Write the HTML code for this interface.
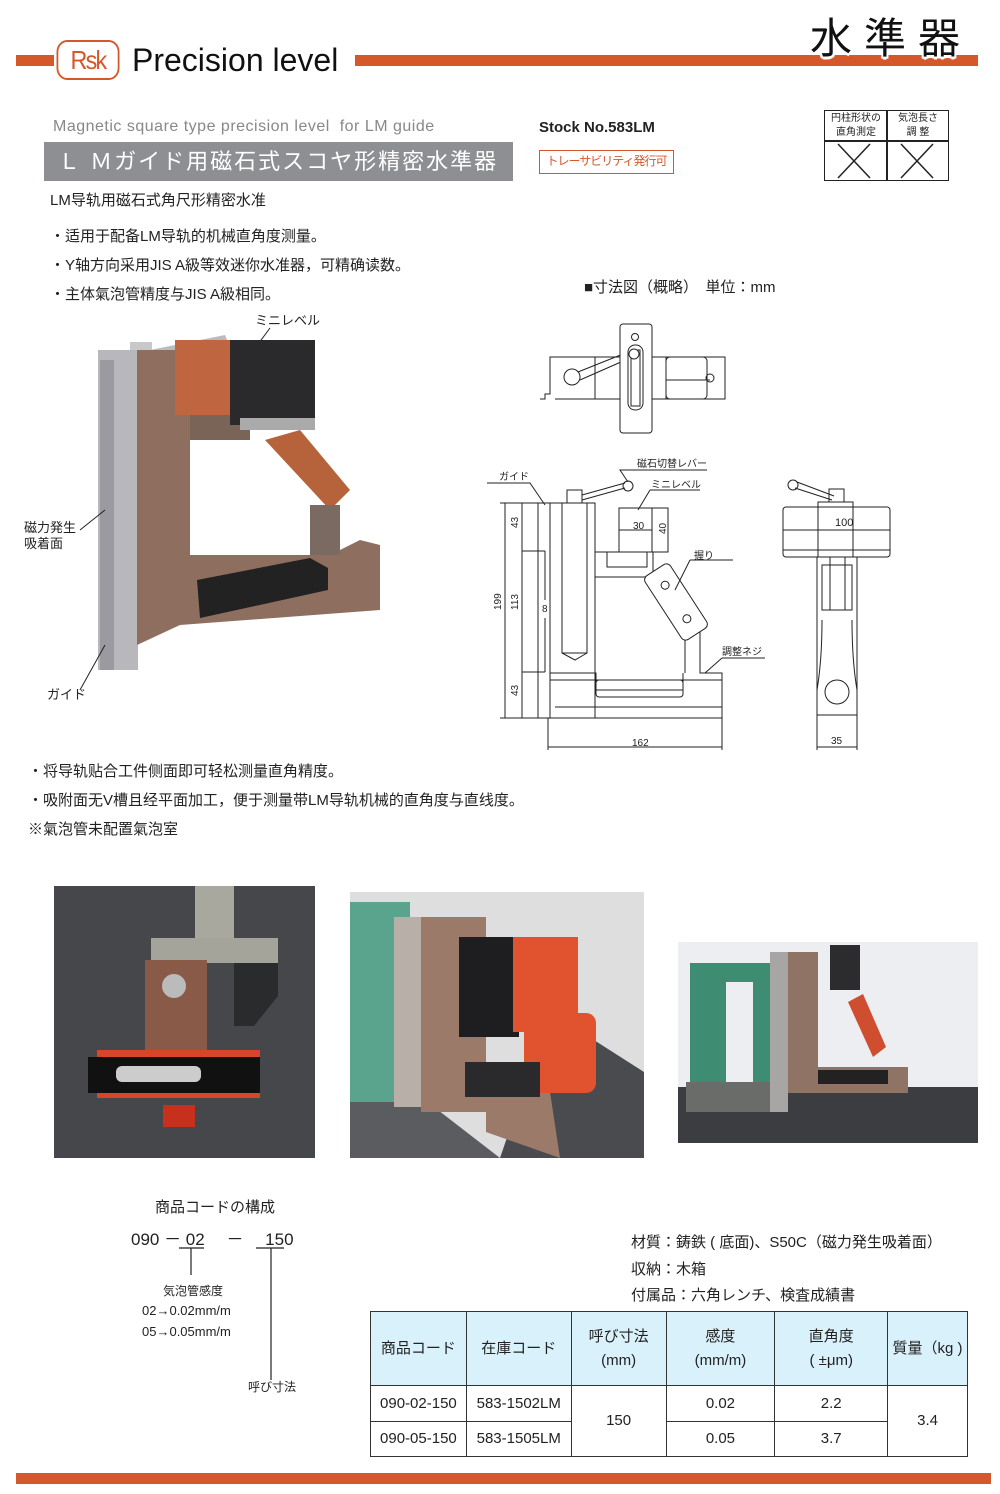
<!DOCTYPE html>
<html><head><meta charset="utf-8">
<style>
*{margin:0;padding:0;box-sizing:border-box}
body{width:1000px;height:1494px;position:relative;background:#fff;font-family:"Liberation Sans","Noto Sans CJK JP",sans-serif;color:#222;overflow:hidden}
.a{position:absolute;white-space:nowrap}
.t{font-size:15px}
table{border-collapse:collapse;position:absolute;left:370px;top:1311px;width:598px;font-size:15px}
td{border:1.5px solid #333;text-align:center;line-height:1.6}
th{border:1.5px solid #333;background:#d9f1fb;font-weight:normal;text-align:center;line-height:1.6;height:74px}
</style></head><body>
<div class="a" style="left:16px;top:55px;width:38px;height:11px;background:#d4582a"></div>
<div class="a" style="left:355px;top:55px;width:623px;height:11px;background:#d4582a"></div>
<div class="a" style="left:53px;top:40px;width:70px;height:40px;border:2px solid #d4582a;border-radius:12px;color:#d4582a;font-size:26px;text-align:center;line-height:36px;letter-spacing:-2px;transform:scaleX(0.9)">Rsk</div>
<div class="a" style="left:132px;top:42px;font-size:32px;color:#111">Precision level</div>
<div class="a" style="left:810px;top:14px;font-size:42px;letter-spacing:12px;color:#111;line-height:50px;text-shadow:2px 2px 0 #fff,-2px -2px 0 #fff,2px -2px 0 #fff,-2px 2px 0 #fff,0 3px 0 #fff">水準器</div>

<div class="a" style="left:53px;top:118px;font-size:16px;color:#888;letter-spacing:0.5px">Magnetic square type precision level&nbsp; for LM guide</div>
<div class="a" style="left:44px;top:142px;width:469px;height:39px;background:#8e8f93;color:#fff;font-size:22px;line-height:39px;padding-left:14px;letter-spacing:2px">Ｌ Ｍガイド用磁石式スコヤ形精密水準器</div>
<div class="a" style="left:50px;top:189px;font-size:15px">LM导轨用磁石式角尺形精密水准</div>
<div class="a" style="left:539px;top:119px;font-size:15px;font-weight:bold">Stock No.583LM</div>
<div class="a" style="left:539px;top:150px;width:135px;height:24px;border:1.5px solid #d4582a;color:#d4582a;font-size:12px;text-align:center;line-height:21px;letter-spacing:-1px">トレーサビリティ発行可</div>
<div class="a" style="left:824px;top:110px;width:125px;height:71px;border:1.5px solid #222"></div>
<div class="a" style="left:886px;top:110px;width:1.5px;height:71px;background:#222"></div>
<div class="a" style="left:824px;top:140px;width:125px;height:1.5px;background:#222"></div>
<div class="a" style="left:826px;top:112px;width:60px;font-size:10px;text-align:center;line-height:14px;white-space:normal">円柱形状の<br>直角測定</div>
<div class="a" style="left:888px;top:112px;width:60px;font-size:10px;text-align:center;line-height:14px;white-space:normal">気泡長さ<br>調 整</div>
<svg class="a" style="left:824px;top:141px" width="125" height="40"><path d="M14 3L46 37M46 3L14 37M77 3L109 37M109 3L77 37" stroke="#222" stroke-width="1.5"/></svg>

<div class="a t" style="left:50px;top:225px">・适用于配备LM导轨的机械直角度测量。</div>
<div class="a t" style="left:50px;top:254px">・Y轴方向采用JIS A級等效迷你水准器，可精确读数。</div>
<div class="a t" style="left:50px;top:283px">・主体氣泡管精度与JIS A級相同。</div>
<div class="a t" style="left:584px;top:276px">■寸法図（概略）　単位：mm</div>

<svg class="a" style="left:0;top:300px" width="480" height="420">
<text x="255" y="25" font-size="13" fill="#222">ミニレベル</text>
<line x1="270" y1="28" x2="250" y2="55" stroke="#222"/>
<rect x="130" y="42" width="22" height="20" fill="#c8c8c8"/>
<polygon points="150,50 225,35 228,42 152,56" fill="#bbb"/>
<rect x="98" y="50" width="40" height="320" fill="#b8b8bc"/>
<rect x="100" y="60" width="14" height="310" fill="#9a9aa0"/>
<path d="M137 50 L190 50 L190 255 L330 255 L360 240 L380 245 L380 310 L180 325 L137 345 Z" fill="#8e6e5e"/>
<rect x="190" y="110" width="60" height="30" fill="#7a6458"/>
<polygon points="265,140 300,130 350,190 330,210" fill="#b6623a"/>
<rect x="310" y="205" width="30" height="50" fill="#7a6a62"/>
<rect x="175" y="40" width="90" height="75" fill="#bf6640"/>
<rect x="230" y="40" width="85" height="85" fill="#2a2a2c"/>
<rect x="240" y="118" width="75" height="12" fill="#aaa"/>
<polygon points="197,280 310,258 328,268 328,290 200,318" fill="#222"/>
<text x="24" y="232" font-size="13" fill="#222">磁力発生</text>
<text x="24" y="248" font-size="13" fill="#222">吸着面</text>
<line x1="80" y1="230" x2="105" y2="210" stroke="#222"/>
<text x="47" y="399" font-size="13" fill="#222">ガイド</text>
<line x1="80" y1="390" x2="105" y2="345" stroke="#222"/>
</svg>

<svg class="a" style="left:480px;top:310px" width="440" height="450" font-size="10" fill="none" stroke="#222" stroke-width="1">
<g transform="translate(-480,-310)">
<path d="M540 399 L545 399 L545 394 L550 394 L550 357 L725 357 L725 399 L555 399"/>
<line x1="595" y1="357" x2="595" y2="399"/><line x1="666" y1="357" x2="666" y2="399"/>
<rect x="666" y="357" width="41" height="42" rx="4"/>
<line x1="666" y1="380" x2="710" y2="380"/>
<circle cx="710" cy="378" r="4"/>
<circle cx="572" cy="377" r="8"/>
<path d="M578 372L628 352M580 380L630 358"/>
<rect x="620" y="324" width="32" height="109" rx="3" fill="#fff"/>
<circle cx="635" cy="337" r="3.5"/>
<rect x="628" y="345" width="15" height="65" rx="7"/>
<rect x="631" y="350" width="9" height="56"/>
<circle cx="634" cy="354" r="5" fill="#fff"/>
<line x1="538" y1="503" x2="538" y2="718"/>
<rect x="550" y="503" width="45" height="215"/>
<rect x="562" y="503" width="25" height="150"/>
<path d="M562 653 L575 660 L587 653"/>
<rect x="567" y="490" width="15" height="13"/>
<path d="M582 495 L625 483 M582 500 L625 488"/><circle cx="628" cy="486" r="5"/>
<path d="M595 552 L653 552 L653 577 L595 577"/>
<rect x="607" y="552" width="40" height="15"/>
<rect x="619" y="508" width="33" height="44"/><rect x="652" y="508" width="16" height="44"/>
<line x1="619" y1="530" x2="652" y2="530"/>
<path d="M595 577 L595 673 L550 673 M550 680 L722 680 L722 718 L550 718 M555 707 L722 707"/>
<path d="M595 673 L596 673 L596 690 L683 690 L683 673"/>
<rect x="596" y="680" width="87" height="17" rx="3"/>
<path d="M685 673 L685 635 L700 625 L700 673 L722 673 L722 680"/>
<g transform="translate(676,602) rotate(57)"><rect x="-38" y="-15" width="76" height="30" rx="5" fill="#fff"/><circle cx="-20" cy="0" r="4"/><circle cx="20" cy="0" r="4"/></g>
<path d="M505 503 L505 718 M522 503 L522 718 M500 503 L550 503 M500 718 L550 718 M522 551 L545 551 M522 672 L545 672 M545 672 L545 618 M545 551 L545 600"/>
<path d="M548 718 L548 750 M722 718 L722 750 M548 747 L722 747"/>
<path d="M817 715 L817 750 M857 715 L857 750 M817 747 L857 747"/>
<path d="M487 483 L530 483 L545 505 M620 470 L707 470 L620 470 L628 482 M650 490 L700 490 M650 490 L638 510 M690 560 L733 560 M690 560 L675 590 M722 658 L765 658 M722 658 L705 673"/>
<rect x="783" y="507" width="107" height="50" rx="3"/>
<line x1="783" y1="530" x2="890" y2="530"/><line x1="783" y1="550" x2="890" y2="550"/>
<rect x="818" y="502" width="35" height="55"/>
<rect x="829" y="489" width="15" height="13"/>
<path d="M797 482 L834 496 M795 488 L832 500"/><circle cx="793" cy="485" r="5"/>
<path d="M817 557 L817 715 L857 715 L857 557 M822 565 L852 565 L852 610 L822 610 Z M830 557 L830 610 M845 557 L845 610 M822 620 Q822 660 817 690 M852 620 Q852 660 857 690"/>
<circle cx="837" cy="692" r="12"/>
</g>
<g stroke="none" fill="#222" font-family="Liberation Sans,Noto Sans CJK JP,sans-serif">
<text x="19" y="170">ガイド</text>
<text x="157" y="157">磁石切替レバー</text>
<text x="171" y="178">ミニレベル</text>
<text x="214" y="249">握り</text>
<text x="242" y="345">調整ネジ</text>
<text x="153" y="219">30</text>
<text x="355" y="216" font-size="11">100</text>
<text x="152" y="436">162</text>
<text x="351" y="434">35</text>
<text x="62" y="302">8</text>
<text transform="translate(38,300) rotate(-90)">113</text>
<text transform="translate(21,300) rotate(-90)">199</text>
<text transform="translate(38,218) rotate(-90)">43</text>
<text transform="translate(38,386) rotate(-90)">43</text>
<text transform="translate(186,224) rotate(-90)">40</text>
</g>
</svg>

<div class="a t" style="left:28px;top:760px">・将导轨贴合工件侧面即可轻松测量直角精度。</div>
<div class="a t" style="left:28px;top:789px">・吸附面无V槽且经平面加工，便于测量带LM导轨机械的直角度与直线度。</div>
<div class="a t" style="left:28px;top:818px">※氣泡管未配置氣泡室</div>

<svg class="a" style="left:54px;top:886px" width="261" height="272">
<rect width="261" height="272" fill="#45474a"/>
<rect x="141" y="0" width="39" height="52" fill="#a9a89e"/>
<rect x="97" y="52" width="127" height="25" fill="#a5a49a"/>
<polygon points="180,77 224,77 224,110 200,140 180,140" fill="#2a2b2d"/>
<rect x="91" y="74" width="62" height="100" fill="#8a5a48"/>
<circle cx="120" cy="100" r="12" fill="#bbb"/>
<rect x="43" y="164" width="163" height="48" fill="#d7452a"/>
<rect x="34" y="171" width="172" height="36" fill="#111"/>
<rect x="62" y="180" width="85" height="16" rx="6" fill="#ccc"/>
<rect x="109" y="219" width="32" height="22" fill="#c8301e"/>
</svg>
<svg class="a" style="left:350px;top:892px" width="294" height="266">
<rect width="294" height="266" fill="#dedede"/>
<polygon points="150,266 294,266 294,180 200,120" fill="#494b4e"/>
<polygon points="0,150 150,266 0,266" fill="#5a5c60"/>
<rect x="0" y="10" width="60" height="200" fill="#5aa48e"/>
<rect x="44" y="25" width="30" height="190" fill="#b8b0a8"/>
<rect x="71" y="25" width="65" height="195" fill="#9c7a6a"/>
<polygon points="136,180 200,200 210,266 136,240" fill="#9c7a6a"/>
<rect x="109" y="45" width="60" height="100" fill="#1e1e20"/>
<rect x="163" y="45" width="65" height="95" fill="#e0532e"/>
<rect x="174" y="121" width="72" height="80" rx="10" fill="#e0532e"/>
<rect x="115" y="170" width="75" height="35" fill="#2a2a2c"/>
</svg>
<svg class="a" style="left:678px;top:942px" width="300" height="201">
<rect width="300" height="201" fill="#eceef2"/>
<rect x="0" y="145" width="300" height="56" fill="#3b3d41"/>
<path d="M12 21 L92 21 L92 168 L12 168 Z M48 40 L48 145 L75 145 L75 40 Z" fill="#3e8d72" fill-rule="evenodd"/>
<rect x="8" y="140" width="100" height="30" fill="#6a6c6a"/>
<rect x="92" y="10" width="18" height="160" fill="#a8a6a4"/>
<rect x="110" y="10" width="30" height="141" fill="#8f7466"/>
<rect x="110" y="125" width="120" height="26" fill="#8f7466"/>
<rect x="152" y="3" width="30" height="45" fill="#2c2c2e"/>
<polygon points="170,60 185,52 208,105 195,115" fill="#d04e30"/>
<rect x="140" y="128" width="70" height="14" fill="#222"/>
</svg>

<div class="a t" style="left:155px;top:1196px">商品コードの構成</div>
<div class="a" style="left:131px;top:1225px;font-size:17px">090 － 02 　－ 　150</div>
<svg class="a" style="left:170px;top:1245px" width="120" height="145"><path d="M9 3L34 3M21 3L21 30M86 3L114 3M101 3L101 135" stroke="#222" stroke-width="1.2"/></svg>
<div class="a" style="left:163px;top:1282px;font-size:12px">気泡管感度</div>
<div class="a" style="left:142px;top:1303px;font-size:13px">02→0.02mm/m</div>
<div class="a" style="left:142px;top:1324px;font-size:13px">05→0.05mm/m</div>
<div class="a" style="left:248px;top:1378px;font-size:12px">呼び寸法</div>

<div class="a t" style="left:631px;top:1231px">材質：鋳鉄 ( 底面)、S50C（磁力発生吸着面）</div>
<div class="a t" style="left:631px;top:1258px">収納：木箱</div>
<div class="a t" style="left:631px;top:1284px">付属品：六角レンチ、検査成績書</div>

<table>
<colgroup><col style="width:96px"><col style="width:105px"><col style="width:95px"><col style="width:109px"><col style="width:113px"><col style="width:80px"></colgroup>
<tr><th>商品コード</th><th>在庫コード</th><th>呼び寸法<br>(mm)</th><th>感度<br>(mm/m)</th><th>直角度<br>( ±μm)</th><th>質量（kg )</th></tr>
<tr style="height:36px"><td>090-02-150</td><td>583-1502LM</td><td rowspan="2">150</td><td>0.02</td><td>2.2</td><td rowspan="2">3.4</td></tr>
<tr style="height:35px"><td>090-05-150</td><td>583-1505LM</td><td>0.05</td><td>3.7</td></tr>
</table>

<div class="a" style="left:16px;top:1473px;width:975px;height:11px;background:#d4582a"></div>
</body></html>
